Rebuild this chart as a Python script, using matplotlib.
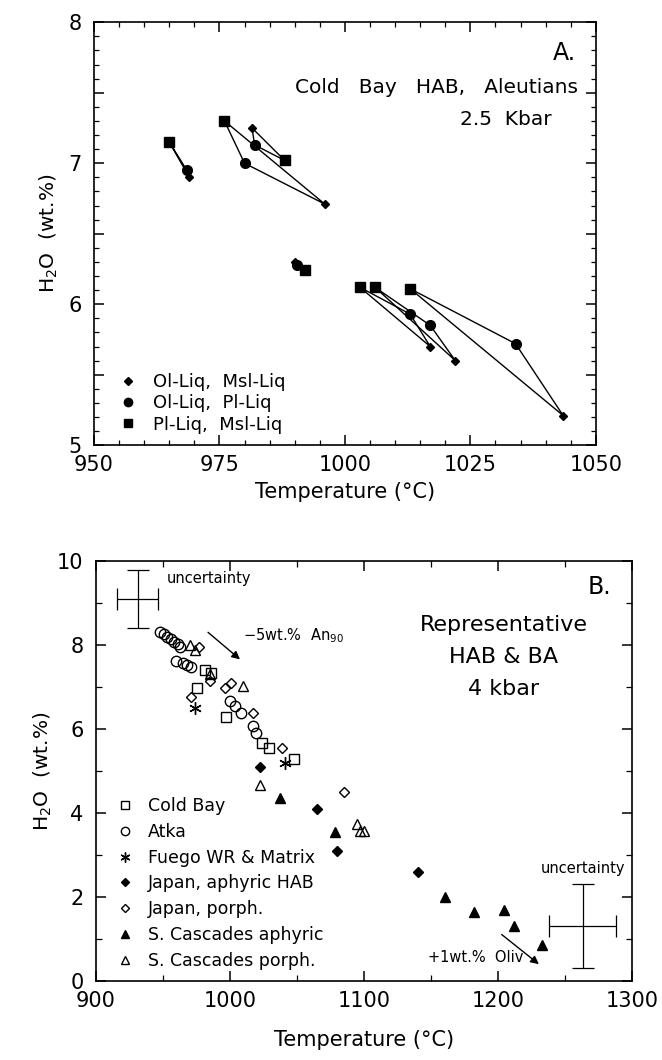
import matplotlib
matplotlib.use("Agg")
import matplotlib.pyplot as plt
from matplotlib.lines import Line2D
from matplotlib.ticker import MultipleLocator, FuncFormatter

plt.rcParams['font.family'] = ['DejaVu Sans']

# ---------------- Panel A data (Cold Bay HAB, 2.5 kbar) ----------------
# each index = one sample; three thermometer/hygrometer pairs per sample
a_sq_T = [965, 976, 988, 992, 1003, 1006, 1013]
a_sq_H = [7.15, 7.30, 7.02, 6.24, 6.12, 6.12, 6.11]
a_ci_T = [968.5, 980, 982, 990.5, 1013, 1017, 1034]
a_ci_H = [6.95, 7.00, 7.13, 6.28, 5.93, 5.85, 5.72]
a_di_T = [969, 996, 981.5, 990, 1017, 1022, 1043.5]
a_di_H = [6.90, 6.71, 7.25, 6.30, 5.70, 5.60, 5.21]
a_labels = ["Ol-Liq,  Msl-Liq", "Ol-Liq,  Pl-Liq", "Pl-Liq,  Msl-Liq"]

# ---------------- Panel B data (Representative HAB & BA, 4 kbar) -------
coldbay_T = [975, 981, 986, 997, 1024, 1029, 1048]
coldbay_H = [6.98, 7.40, 7.33, 6.30, 5.67, 5.56, 5.30]
atka_T = [948, 951, 953, 956, 958, 961, 963, 960, 965, 968, 971, 1000, 1004, 1008, 1017, 1019]
atka_H = [8.32, 8.26, 8.20, 8.14, 8.08, 8.02, 7.95, 7.62, 7.58, 7.52, 7.48, 6.67, 6.55, 6.38, 6.08, 5.90]
fuego_T = [974, 1041]
fuego_H = [6.50, 5.20]
japan_aph_T = [1022, 1065, 1080, 1140]
japan_aph_H = [5.10, 4.10, 3.10, 2.60]
japan_por_T = [977, 985, 971, 996, 1001, 1017, 1039, 1085]
japan_por_H = [7.95, 7.15, 6.77, 6.97, 7.10, 6.38, 5.56, 4.50]
casc_aph_T = [1037, 1078, 1160, 1182, 1204, 1212, 1233]
casc_aph_H = [4.35, 3.55, 2.00, 1.65, 1.70, 1.30, 0.87]
casc_por_T = [970, 974, 985, 1010, 1022, 1095, 1097, 1100]
casc_por_H = [8.00, 7.88, 7.32, 7.02, 4.67, 3.75, 3.58, 3.58]
b_labels = ["Cold Bay", "Atka", "Fuego WR & Matrix", "Japan, aphyric HAB",
            "Japan, porph.", "S. Cascades aphyric", "S. Cascades porph."]

# uncertainty crosses (center T, center H, +/- T, +/- H)
unc1 = (931, 9.10, 15, 0.70)
unc2 = (1263, 1.32, 25, 1.00)

fig = plt.figure(figsize=(6.62, 10.60), dpi=100)

# ======================= Panel A =======================
axA = fig.add_axes([0.142, 0.580, 0.758, 0.399])
for i in range(len(a_sq_T)):
    xs = [a_sq_T[i], a_ci_T[i], a_di_T[i], a_sq_T[i]]
    ys = [a_sq_H[i], a_ci_H[i], a_di_H[i], a_sq_H[i]]
    axA.plot(xs, ys, color='black', lw=1.0, zorder=2)
axA.plot(a_di_T, a_di_H, marker='D', color='black', ms=4.5, ls='none', zorder=3)
axA.plot(a_ci_T, a_ci_H, marker='o', color='black', ms=7, ls='none', zorder=3)
axA.plot(a_sq_T, a_sq_H, marker='s', color='black', ms=6.5, ls='none', zorder=3)

axA.set_xlim(950, 1050)
axA.set_ylim(5, 8)
axA.xaxis.set_major_locator(MultipleLocator(25))
axA.xaxis.set_minor_locator(MultipleLocator(5))
axA.yaxis.set_major_locator(MultipleLocator(0.5))
axA.yaxis.set_minor_locator(MultipleLocator(0.1))
axA.yaxis.set_major_formatter(FuncFormatter(
    lambda v, p: f"{v:.0f}" if abs(v - round(v)) < 1e-6 else ""))
axA.tick_params(which='both', direction='in', top=True, right=True, labelsize=15)
axA.tick_params(which='major', length=7, width=1.1)
axA.tick_params(which='minor', length=3.5, width=0.9)
axA.tick_params(axis='x', which='major', pad=7)
axA.tick_params(axis='y', which='major', pad=9)
axA.set_xlabel("Temperature (°C)", fontsize=15, labelpad=5)
axA.set_ylabel("H$_2$O  (wt.%)", fontsize=14.5, labelpad=6)
axA.text(1046, 7.78, "A.", fontsize=17, ha='right', va='center')
axA.text(1046.5, 7.54, "Cold   Bay   HAB,   Aleutians", fontsize=14.5,
         ha='right', va='center')
axA.text(1032, 7.31, "2.5  Kbar", fontsize=14.5, ha='center', va='center')

hA = [Line2D([], [], marker='D', color='black', ls='none', ms=4),
      Line2D([], [], marker='o', color='black', ls='none', ms=6),
      Line2D([], [], marker='s', color='black', ls='none', ms=6)]
axA.legend(hA, a_labels, loc='lower left', frameon=False, fontsize=13,
           handlelength=1.0, handletextpad=0.9, labelspacing=0.18,
           borderaxespad=0.0, bbox_to_anchor=(0.035, 0.01))
for s in axA.spines.values():
    s.set_linewidth(1.2)

# ======================= Panel B =======================
axB = fig.add_axes([0.145, 0.0745, 0.810, 0.396])
kw_open = dict(mfc='none', mec='black', mew=1.0, ls='none', zorder=3)
axB.plot(coldbay_T, coldbay_H, marker='s', ms=7.5, label=b_labels[0], **kw_open)
axB.plot(atka_T, atka_H, marker='o', ms=7.5, label=b_labels[1], **kw_open)
axB.plot(fuego_T, fuego_H, marker=(6, 2, 0), ms=9, color='black', mew=1.0,
         ls='none', label=b_labels[2], zorder=3)
axB.plot(japan_aph_T, japan_aph_H, marker='D', ms=5.5, color='black', ls='none',
         label=b_labels[3], zorder=3)
axB.plot(japan_por_T, japan_por_H, marker='D', ms=5.5, label=b_labels[4], **kw_open)
axB.plot(casc_aph_T, casc_aph_H, marker='^', ms=7.5, color='black', ls='none',
         label=b_labels[5], zorder=3)
axB.plot(casc_por_T, casc_por_H, marker='^', ms=7.5, label=b_labels[6], **kw_open)

for (cx, cy, dx, dy) in (unc1, unc2):
    axB.errorbar([cx], [cy], xerr=[dx], yerr=[dy], fmt='none', ecolor='black',
                 elinewidth=0.9, capsize=8, capthick=0.9)

axB.text(953, 9.6, "uncertainty", fontsize=10.5, ha='left', va='center')
axB.text(1263, 2.67, "uncertainty", fontsize=10.5, ha='center', va='center')
axB.annotate("", xy=(1009, 7.62), xytext=(982, 8.35),
             arrowprops=dict(arrowstyle='-|>', color='black', lw=1.0,
                             mutation_scale=12))
axB.text(1010, 8.22, "\u22125wt.%  An$_{90}$", fontsize=10.5, ha='left', va='center')
axB.annotate("", xy=(1232, 0.36), xytext=(1201, 1.15),
             arrowprops=dict(arrowstyle='-|>', color='black', lw=1.0,
                             mutation_scale=12))
axB.text(1148, 0.55, "+1wt.%  Oliv", fontsize=10.5, ha='left', va='center')
axB.text(1284, 9.38, "B.", fontsize=17, ha='right', va='center')
axB.text(1204, 8.48, "Representative", fontsize=16, ha='center', va='center')
axB.text(1204, 7.72, "HAB & BA", fontsize=16, ha='center', va='center')
axB.text(1204, 6.96, "4 kbar", fontsize=16, ha='center', va='center')

axB.set_xlim(900, 1300)
axB.set_ylim(0, 10)
axB.xaxis.set_major_locator(MultipleLocator(100))
axB.xaxis.set_minor_locator(MultipleLocator(50))
axB.yaxis.set_major_locator(MultipleLocator(2))
axB.yaxis.set_minor_locator(MultipleLocator(1))
axB.tick_params(which='both', direction='in', top=True, right=True, labelsize=15)
axB.tick_params(which='major', length=7, width=1.1)
axB.tick_params(which='minor', length=4, width=0.9)
axB.tick_params(axis='x', which='major', pad=7)
axB.tick_params(axis='y', which='major', pad=9)
axB.set_xlabel("Temperature (°C)", fontsize=15, labelpad=14)
axB.set_ylabel("H$_2$O  (wt.%)", fontsize=14.5, labelpad=2)
axB.legend(loc='lower left', frameon=False, fontsize=12.5, markerscale=0.8,
           handlelength=1.0, handletextpad=0.8, labelspacing=0.45,
           borderaxespad=0.0, bbox_to_anchor=(0.025, 0.01))
for s in axB.spines.values():
    s.set_linewidth(1.2)

fig.savefig("out.png", dpi=100)
